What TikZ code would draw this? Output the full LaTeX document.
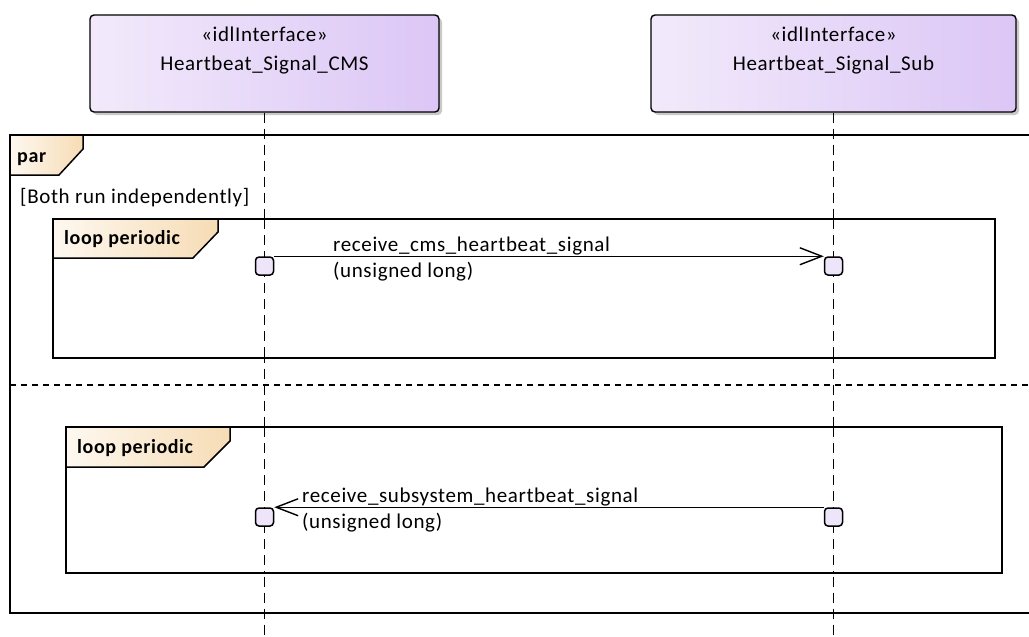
\documentclass[tikz,border=0pt]{standalone}
\usepackage{fontspec}
\setmainfont{Carlito}[LetterSpace=3]
\usetikzlibrary{arrows.meta, positioning, shadows}
\definecolor{ifaceleft}{HTML}{F2EAFB}
\definecolor{iferight}{HTML}{DCC6F6}
\definecolor{tableft}{HTML}{FEF8F0}
\definecolor{tabright}{HTML}{F6DCB5}
\definecolor{actfill}{HTML}{EEE5FA}

\begin{document}
\begin{tikzpicture}[
  x=1pt, y=-1pt,
  iface/.style={draw, line width=1.4pt, rounded corners=4pt, minimum height=97pt, left color=ifaceleft, right color=iferight, drop shadow={shadow xshift=3pt, shadow yshift=-3pt, opacity=0.3, fill=black!70}},
  ifacetext/.style={anchor=north, align=center, inner sep=0pt, yshift=-12pt, font=\fontsize{21}{29}\selectfont},
  lifeline/.style={line width=1.5pt, dash pattern=on 10pt off 6pt},
  frame/.style={line width=1.7pt},
  tab/.style={draw, line width=1.5pt, left color=tableft, right color=tabright},
  tabtext/.style={font=\fontsize{20}{22}\selectfont\bfseries, anchor=base west, inner sep=0pt},
  act/.style={draw, line width=1.5pt, fill=actfill, rounded corners=3.5pt, minimum size=18pt, inner sep=0pt},
  msg/.style={line width=1.4pt, -{Straight Barb[length=22pt, width=17pt, line width=1.4pt]}},
  msgtext/.style={font=\fontsize{21}{22}\selectfont, anchor=base west, inner sep=0pt}
]
\clip (0,0) rectangle (1029,637);

% Lifeline heads
\node[iface, minimum width=349pt] (cms) at (264.5,63.5) {};
\node[iface, minimum width=365pt] (sub) at (833.5,63.5) {};
\node[ifacetext] (cmsname) at (cms.north) {«idlInterface»\\Heartbeat\_Signal\_CMS};
\node[ifacetext] (subname) at (sub.north) {«idlInterface»\\Heartbeat\_Signal\_Sub};

% Lifelines
\coordinate (cmsend) at (264.5,637);
\coordinate (subend) at (833.5,637);
\draw[lifeline] (cms.south) -- (cmsend);
\draw[lifeline] (sub.south) -- (subend);

% par frame
\draw[frame] (1040,613) -- (10,613) -- (10,135) -- (1040,135);
\draw[tab] (10,135) -- (83,135) -- (83,149) -- (59,175) -- (10,175) -- cycle;
\node[tabtext] (partitle) at (17,162) {par};
\node[msgtext] (guard) at (20,203) {[Both run independently]};
\draw[line width=1.4pt, dash pattern=on 6pt off 5pt] (10,385) -- (1040,385);

% first loop
\draw[frame, fill=white] (53,219) rectangle (995,358);
\draw[tab] (53,219) -- (218,219) -- (218,232) -- (193,258) -- (53,258) -- cycle;
\node[tabtext] (loopa) at (64,244) {loop periodic};

% second loop
\draw[frame, fill=white] (66,427) rectangle (1002,573);
\draw[tab] (66,427) -- (230,427) -- (230,441) -- (204,467) -- (66,467) -- cycle;
\node[tabtext] (loopb) at (77,453) {loop periodic};

% redraw lifelines over the loop frames
\draw[lifeline] (264.5,219) -- (264.5,358);
\draw[lifeline] (833.5,219) -- (833.5,358);
\draw[lifeline] (264.5,427) -- (264.5,573);
\draw[lifeline] (833.5,427) -- (833.5,573);

% Activations
\node[act] (acmsa) at (264.5,266) {};
\node[act] (asuba) at (833.5,266) {};
\node[act] (acmsb) at (264.5,517) {};
\node[act] (asubb) at (833.5,517) {};

% Messages
\draw[msg] (acmsa.north east) -- (asuba.north west);
\node[msgtext] (ma) at (333,251) {receive\_cms\_heartbeat\_signal};
\node[msgtext] (maarg) at (333,277) {(unsigned long)};

\draw[msg] (asubb.north west) -- (acmsb.north east);
\node[msgtext] (mb) at (302,502) {receive\_subsystem\_heartbeat\_signal};
\node[msgtext] (mbarg) at (302,528) {(unsigned long)};

\end{tikzpicture}
\end{document}
